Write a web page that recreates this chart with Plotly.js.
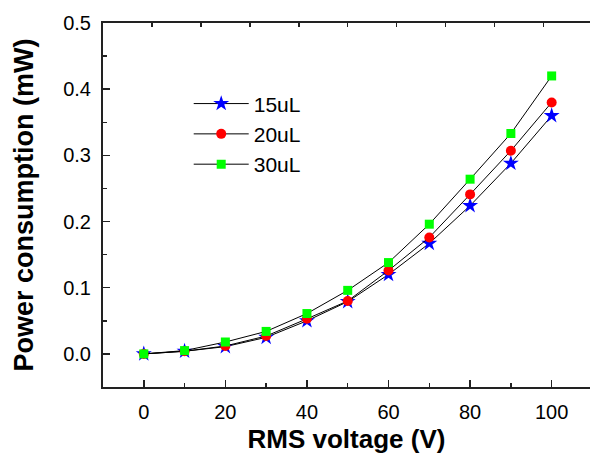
<!DOCTYPE html>
<html>
<head>
<meta charset="utf-8">
<script src="https://cdn.plot.ly/plotly-3.0.1.min.js"></script>
<style>html,body{margin:0;padding:0;background:#fff;}#chart{width:590px;height:457px;}</style>
</head>
<body>
<div id="chart"></div>
<script>
const voltage = [0, 10, 20, 30, 40, 50, 60, 70, 80, 90, 100];
const power15 = [0, 0.004, 0.011, 0.025, 0.050, 0.079, 0.120, 0.167, 0.224, 0.288, 0.360];
const power20 = [0, 0.004, 0.012, 0.027, 0.053, 0.080, 0.126, 0.176, 0.241, 0.307, 0.380];
const power30 = [0, 0.005, 0.018, 0.034, 0.061, 0.096, 0.138, 0.196, 0.264, 0.333, 0.420];
const seriesNames = ['15uL', '20uL', '30uL'];
const yTicks = [0.0, 0.1, 0.2, 0.3, 0.4, 0.5];
const xTicks = [0, 20, 40, 60, 80, 100];

const font = 'Liberation Sans, Arial, sans-serif';
function tr(y, name, sym, col, size) {
  return {x: voltage, y: y, name: name, type: 'scatter', mode: 'lines+markers',
    line: {color: '#000', width: 1},
    marker: {symbol: sym, color: col, size: size, line: {width: 0}}};
}
const data = [
  tr(power15, seriesNames[0], 'star', '#0000ff', 12),
  tr(power20, seriesNames[1], 'circle', '#ff0000', 10),
  tr(power30, seriesNames[2], 'square', '#00ff00', 9),
  {x: [0], y: [0], xaxis: 'x2', mode: 'markers', marker: {opacity: 0}, showlegend: false, hoverinfo: 'skip'}
];
const layout = {
  width: 590, height: 457,
  margin: {l: 103, r: 0, t: 23, b: 70},
  paper_bgcolor: '#fff', plot_bgcolor: '#fff',
  font: {family: font, color: '#000'},
  xaxis: {
    range: [-10, 109.4], tickvals: xTicks, ticktext: xTicks.map(String),
    showgrid: false, zeroline: false, showline: true, linecolor: '#222', linewidth: 2,
    ticks: 'inside', ticklen: 7, tickwidth: 1.5, tickcolor: '#222',
    minor: {ticks: 'inside', dtick: 10, tick0: 0, ticklen: 4, tickcolor: '#222', tickwidth: 1.5},
    tickfont: {size: 20, family: font}, ticklabelstandoff: 6,
    title: {text: '<b>RMS voltage (V)</b>', font: {size: 26, family: font}, standoff: 8}
  },
  xaxis2: {
    overlaying: 'x', side: 'top', anchor: 'y', range: [-10, 109.4],
    tick0: -10, dtick: 12, showticklabels: false, showgrid: false, zeroline: false,
    showline: true, linecolor: '#222', linewidth: 2,
    ticks: 'inside', ticklen: 4, tickwidth: 1.5, tickcolor: '#222'
  },
  yaxis: {
    range: [-0.05, 0.5], tickvals: yTicks, ticktext: yTicks.map(v => v.toFixed(1)),
    showgrid: false, zeroline: false, showline: true, linecolor: '#222', linewidth: 2,
    ticks: 'inside', ticklen: 7, tickwidth: 1.5, tickcolor: '#222',
    minor: {ticks: 'inside', dtick: 0.05, tick0: 0, ticklen: 4, tickcolor: '#222', tickwidth: 1.5},
    tickfont: {size: 20, family: font}, ticklabelstandoff: 6,
    title: {text: '<b>Power consumption (mW)</b>', font: {size: 27, family: font}, standoff: 22}
  },
  legend: {
    x: 0.176, y: 0.834, xanchor: 'left', yanchor: 'top',
    bgcolor: 'rgba(0,0,0,0)', borderwidth: 0,
    font: {size: 21, family: font}, itemwidth: 55, tracegroupgap: 0
  },
  showlegend: true
};
Plotly.newPlot('chart', data, layout, {staticPlot: true});
</script>
</body>
</html>
